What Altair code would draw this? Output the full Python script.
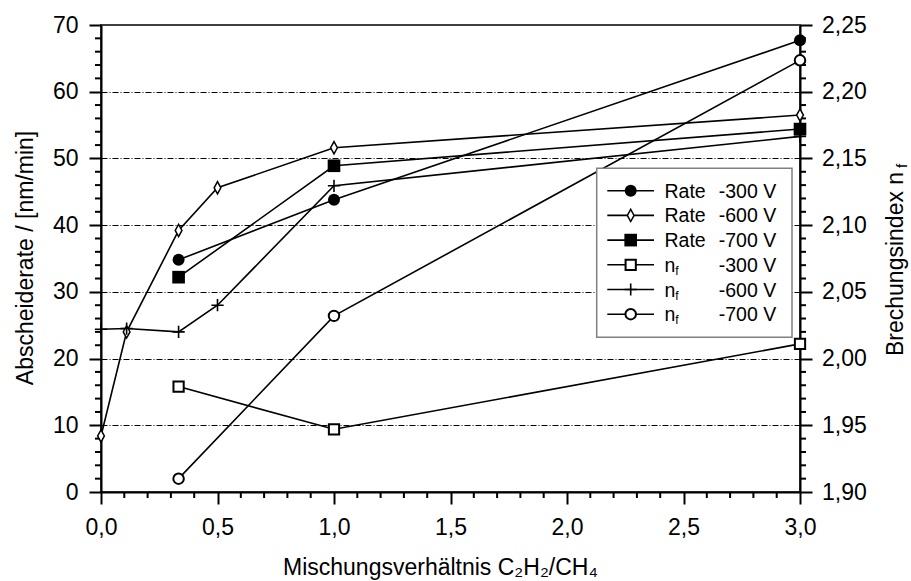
import altair as alt
import pandas as pd

FONT = "Liberation Sans"
SUB_FONT = "Liberation Sans, DejaVu Sans"

# ---- measured series, x = mixing ratio C2H2/CH4 ----
x_rate_300 = [0.333, 1.0, 3.0]
rate_300 = [34.8, 43.8, 67.7]

x_rate_600 = [0.0, 0.11, 0.333, 0.5, 1.0, 3.0]
rate_600 = [8.4, 24.0, 39.2, 45.6, 51.6, 56.5]

x_rate_700 = [0.333, 1.0, 3.0]
rate_700 = [32.2, 48.9, 54.4]

x_nf_300 = [0.333, 1.0, 3.0]
nf_300 = [1.979, 1.947, 2.011]

x_nf_600 = [0.0, 0.11, 0.333, 0.5, 1.0, 3.0]
nf_600 = [2.022, 2.0225, 2.020, 2.040, 2.1295, 2.1665]

x_nf_700 = [0.333, 1.0, 3.0]
nf_700 = [1.910, 2.032, 2.2235]

legend_names = ["Rate", "Rate", "Rate", "n", "n", "n"]
legend_volts = ["-300 V", "-600 V", "-700 V", "-300 V", "-600 V", "-700 V"]

# labelled (major) and unlabelled (minor) tick positions
x_major = [0.0, 0.5, 1.0, 1.5, 2.0, 2.5, 3.0]
x_minor = [round(i * 0.1, 1) for i in range(31) if i % 5]
rate_major = [0, 10, 20, 30, 40, 50, 60, 70]
rate_minor = [v for v in range(0, 71, 2) if v % 10]
nf_major = [1.90, 1.95, 2.00, 2.05, 2.10, 2.15, 2.20, 2.25]
nf_minor = [round(1.90 + i * 0.01, 2) for i in range(36) if i % 5]

W, H = 699, 467

x_scale = alt.Scale(domain=[0, 3], nice=False, zero=False)
rate_scale = alt.Scale(domain=[0, 70], nice=False, zero=False)
nf_scale = alt.Scale(domain=[1.90, 2.25], nice=False, zero=False)

axis_common = dict(
    labelFont=FONT, labelFontSize=23, labelColor="black",
    labelOverlap=False, labelFlush=False,
    tickColor="black", tickWidth=2, tickSize=12,
    domainColor="black", domainWidth=2, title=None,
)

x_axis = alt.Axis(
    orient="bottom", values=x_major, format=".1f", labelPadding=12,
    labelExpr="replace(datum.label, '.', ',')", grid=False, **axis_common,
)
rate_axis = alt.Axis(
    orient="left", values=rate_major, format="d", labelPadding=11,
    grid=True, gridColor="black", gridWidth=1, gridDash=[6, 2, 1, 2],
    gridOpacity={"condition": {"test": "datum.value > 0 && datum.value < 70", "value": 1},
                 "value": 0},
    **axis_common,
)
nf_axis = alt.Axis(
    orient="right", values=nf_major, format=".2f", labelPadding=9.5,
    labelExpr="replace(datum.label, '.', ',')", grid=False, **axis_common,
)

DIAMOND = "M0,-1L0.55,0L0,1L-0.55,0Z"
PLUS = "M-1,0H1M0,-1V1"

# marker styles for the six series
styles = [
    dict(shape="circle", filled=True, color="black", size=144),
    dict(shape=DIAMOND, filled=True, fill="white", stroke="black", strokeWidth=1.5, size=150),
    dict(shape="square", filled=True, color="black", size=160),
    dict(shape="square", filled=True, fill="white", stroke="black", strokeWidth=2, size=105),
    dict(shape=PLUS, filled=False, color="black", strokeWidth=1.6, size=150),
    dict(shape="circle", filled=True, fill="white", stroke="black", strokeWidth=2, size=110),
]

series = [
    (x_rate_300, rate_300, rate_scale),
    (x_rate_600, rate_600, rate_scale),
    (x_rate_700, rate_700, rate_scale),
    (x_nf_300, nf_300, nf_scale),
    (x_nf_600, nf_600, nf_scale),
    (x_nf_700, nf_700, nf_scale),
]


def enc(chart, scale, yaxis=None):
    return chart.encode(
        x=alt.X("x:Q", scale=x_scale, axis=x_axis),
        y=alt.Y("y:Q", scale=scale, axis=yaxis),
    )


layers = []

# minor ticks on the three axes
layers.append(
    alt.Chart(pd.DataFrame({"v": rate_minor})).mark_rule(color="black", strokeWidth=2).encode(
        y=alt.Y("v:Q", scale=rate_scale, axis=None), x=alt.value(-6), x2=alt.value(0)
    )
)
layers.append(
    alt.Chart(pd.DataFrame({"v": nf_minor})).mark_rule(color="black", strokeWidth=2).encode(
        y=alt.Y("v:Q", scale=nf_scale, axis=None), x=alt.value(W), x2=alt.value(W + 6)
    )
)
layers.append(
    alt.Chart(pd.DataFrame({"v": x_minor})).mark_rule(color="black", strokeWidth=2).encode(
        x=alt.X("v:Q", scale=x_scale, axis=x_axis), y=alt.value(H), y2=alt.value(H + 6)
    )
)

# lines first
for i, (xs, ys, sc) in enumerate(series):
    df = pd.DataFrame({"x": xs, "y": ys})
    base = alt.Chart(df).mark_line(color="black", strokeWidth=1.6)
    if i == 0:
        layers.append(enc(base, sc, rate_axis))
    elif i == 3:
        layers.append(enc(base, sc, nf_axis))
    else:
        layers.append(enc(base, sc))

# markers on top
for (xs, ys, sc), st in zip(series, styles):
    df = pd.DataFrame({"x": xs, "y": ys})
    layers.append(enc(alt.Chart(df).mark_point(opacity=1, **st), sc))

# legend box
one = pd.DataFrame({"k": [0]})
layers.append(
    alt.Chart(one).mark_rect(fill="white", stroke="#808080", strokeWidth=1.5).encode(
        x=alt.value(495.7), x2=alt.value(691), y=alt.value(143.3), y2=alt.value(312.3)
    )
)
row0, drow = 165.7, 24.7
for i, st in enumerate(styles):
    ry = row0 + i * drow
    layers.append(
        alt.Chart(one).mark_rule(color="black", strokeWidth=1.6).encode(
            x=alt.value(506.3), x2=alt.value(553), y=alt.value(ry)
        )
    )
    layers.append(
        alt.Chart(one).mark_point(opacity=1, **st).encode(x=alt.value(529.7), y=alt.value(ry))
    )
    layers.append(
        alt.Chart(one).mark_text(
            text=legend_names[i], align="left", baseline="alphabetic",
            font=FONT, fontSize=19.5, color="black",
        ).encode(x=alt.value(563.5), y=alt.value(ry + 7))
    )
    if legend_names[i] == "n":
        layers.append(
            alt.Chart(one).mark_text(
                text="f", align="left", baseline="alphabetic",
                font=FONT, fontSize=12, color="black",
            ).encode(x=alt.value(574.3), y=alt.value(ry + 10))
        )
    layers.append(
        alt.Chart(one).mark_text(
            text=legend_volts[i], align="left", baseline="alphabetic",
            font=FONT, fontSize=19.5, color="black",
        ).encode(x=alt.value(617.7), y=alt.value(ry + 7))
    )

# axis titles
layers.append(
    alt.Chart(one).mark_text(
        text="Mischungsverhältnis C₂H₂/CH₄", align="left", baseline="alphabetic",
        font=SUB_FONT, fontSize=23, color="black",
    ).encode(x=alt.value(182), y=alt.value(550))
)
layers.append(
    alt.Chart(one).mark_text(
        text="Abscheiderate / [nm/min]", align="center", baseline="alphabetic",
        angle=270, font=FONT, fontSize=23, color="black",
    ).encode(x=alt.value(-68), y=alt.value(233))
)
layers.append(
    alt.Chart(one).mark_text(
        text="Brechungsindex n", align="left", baseline="alphabetic",
        angle=270, font=FONT, fontSize=23, color="black",
    ).encode(x=alt.value(802), y=alt.value(331))
)
layers.append(
    alt.Chart(one).mark_text(
        text="f", align="left", baseline="alphabetic",
        angle=270, font=FONT, fontSize=15, color="black",
    ).encode(x=alt.value(806), y=alt.value(143))
)

chart = (
    alt.layer(*layers)
    .resolve_scale(y="independent")
    .properties(
        width=W, height=H,
        padding={"left": 101, "top": 25, "right": 111, "bottom": 89},
        autosize=alt.AutoSizeParams(type="none"),
        background="white",
    )
    .configure_view(stroke="#404040", strokeWidth=2)
)

chart.save("out.html", embed_options={"renderer": "svg", "actions": False})
